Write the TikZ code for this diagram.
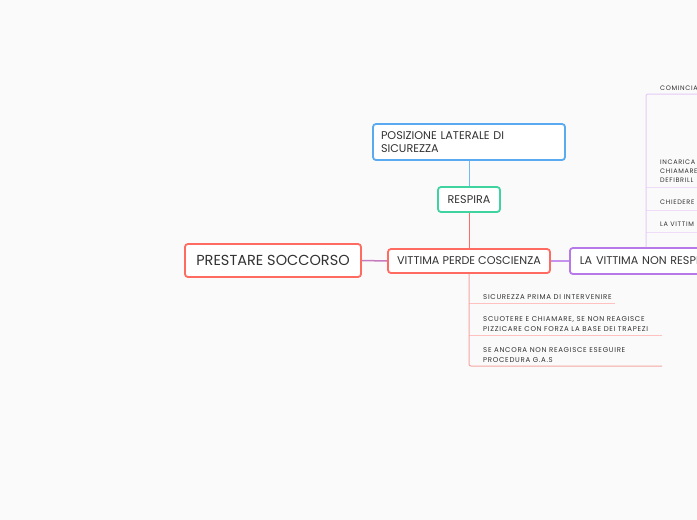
\documentclass[tikz,border=0pt]{standalone}
\usepackage{fontspec}
\setmainfont{Poppins}
\newfontfamily\smallf[LetterSpace=10]{Poppins}
\usetikzlibrary{calc}
\definecolor{bgc}{HTML}{FAFAFA}
\definecolor{txt}{HTML}{333333}
\definecolor{cred}{HTML}{FF6B61}
\definecolor{cgreen}{HTML}{3FD3A0}
\definecolor{cblue}{HTML}{5AAAF2}
\definecolor{cpurple}{HTML}{B778E8}
\definecolor{cmix}{HTML}{C77BBF}
\definecolor{lred}{HTML}{F7A5A2}
\definecolor{llred}{HTML}{FFC2BE}
\definecolor{lpurple}{HTML}{E6CBF6}
\definecolor{llpurple}{HTML}{EEDCF8}
\begin{document}
\begin{tikzpicture}[x=1pt,y=-1pt,
  box/.style={draw, fill=white, rounded corners=3pt, line width=1.8pt, inner sep=0pt, text=txt},
  midfont/.style={font=\fontsize{11.2}{12.7}\selectfont},
  redtxt/.style={anchor=north west, inner sep=0pt, align=left, text=txt, font=\smallf\fontsize{7}{10}\selectfont},
  purtxt/.style={anchor=north west, inner sep=0pt, align=left, text=txt, font=\smallf\fontsize{6.5}{9}\selectfont}]
\fill[bgc] (0,0) rectangle (697,520);
\useasboundingbox (0,0) rectangle (697,520);

% main nodes
\node[box, draw=cred, minimum width=176pt, minimum height=33pt, font=\fontsize{14.5}{16}\selectfont] (prest) at (273,260.5) {PRESTARE SOCCORSO};
\node[box, draw=cred, minimum width=162pt, minimum height=24pt, midfont] (vit) at (469,261) {VITTIMA PERDE COSCIENZA};
\node[box, draw=cpurple, anchor=west, minimum height=26pt, text width=140pt, inner xsep=10pt, align=left, midfont] (lvnr) at (569,261) {LA VITTIMA NON RESPI};
\node[box, draw=cgreen, minimum width=62pt, minimum height=25pt, midfont] (resp) at (469,199.5) {RESPIRA};
\node[box, draw=cblue, minimum width=192pt, minimum height=36pt, text width=176pt, align=left, midfont] (posiz) at (469,142) {POSIZIONE LATERALE DI\\SICUREZZA};

% connectors between main nodes
\draw[cmix, line width=1.5pt] (prest.east) -- (vit.west);
\draw[cpurple!80, line width=1.5pt] (vit.east) -- (lvnr.west);
\draw[cred, line width=1pt] (vit.north) -- (resp.south);
\draw[cblue!85, line width=1pt] (resp.north) -- (posiz.south);

% red children
\node[redtxt] (r1) at (483,294.5) {SICUREZZA PRIMA DI INTERVENIRE};
\node[redtxt] (r2) at (483,316.5) {SCUOTERE E CHIAMARE, SE NON REAGISCE\\PIZZICARE CON FORZA LA BASE DEI TRAPEZI};
\node[redtxt] (r3) at (483,347.5) {SE ANCORA NON REAGISCE ESEGUIRE\\PROCEDURA G.A.S};
\coordinate (r1e) at (615,303);
\coordinate (r2e) at (662,335);
\coordinate (r3e) at (662,366);
\draw[llred, line width=1pt] (vit.south |- r1e) -- (r1e);
\draw[llred, line width=1pt] (vit.south |- r2e) -- (r2e);
\draw[lred, line width=1pt, rounded corners=2pt] (vit.south) |- (r3e);

% purple children
\coordinate (pv) at ($(lvnr.north west)+(77,0)$);
\node[purtxt] (p1) at (660,85.5) {COMINCIA};
\node[purtxt] (p2) at (660,159.5) {INCARICA\\CHIAMARE\\DEFIBRILL};
\node[purtxt] (p3) at (660,199.5) {CHIEDERE};
\node[purtxt] (p4) at (660,221.5) {LA VITTIM};
\coordinate (p1e) at (700,94);
\coordinate (p2e) at (700,187);
\coordinate (p3e) at (700,210);
\coordinate (p4e) at (700,232);
\draw[llpurple, line width=1pt] (pv |- p2e) -- (p2e);
\draw[llpurple, line width=1pt] (pv |- p3e) -- (p3e);
\draw[llpurple, line width=1pt] (pv |- p4e) -- (p4e);
\draw[lpurple, line width=1pt, rounded corners=2pt] (pv) |- (p1e);
\end{tikzpicture}
\end{document}
